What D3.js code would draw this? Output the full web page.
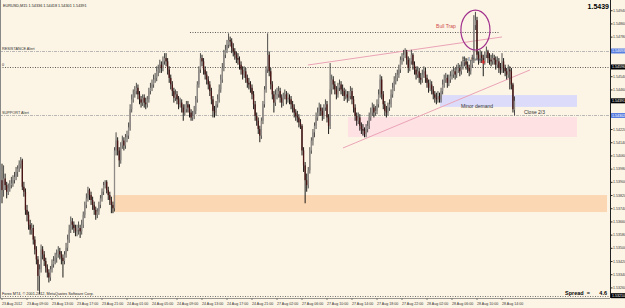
<!DOCTYPE html>
<html><head><meta charset="utf-8">
<script src="https://cdn.jsdelivr.net/npm/d3@7"></script>
<style>body{margin:0;background:#fcf5e5;}svg{display:block}</style>
</head><body><svg id="c" width="625" height="308"></svg>
<script>
const closeP=[
1.5385,1.5392,1.5388,1.5384,1.5386,1.5388,1.5389,1.5391,
1.5393,1.5396,1.5398,1.5401,1.5403,1.5387,1.5384,1.5373,
1.5370,1.5364,1.5361,1.5362,1.5355,1.5349,1.5343,1.5333,
1.5337,1.5349,1.5346,1.5342,1.5338,1.5335,1.5332,1.5337,
1.5340,1.5342,1.5344,1.5346,1.5348,1.5346,1.5344,1.5342,
1.5346,1.5350,1.5355,1.5361,1.5366,1.5364,1.5362,1.5360,
1.5361,1.5362,1.5360,1.5364,1.5370,1.5376,1.5380,1.5385,
1.5382,1.5379,1.5376,1.5373,1.5370,1.5372,1.5376,1.5380,
1.5384,1.5388,1.5390,1.5385,1.5382,1.5379,1.5376,1.5374,
1.5409,1.5415,1.5409,1.5403,1.5412,1.5415,1.5412,1.5417,
1.5418,1.5423,1.5434,1.5440,1.5443,1.5445,1.5447,1.5443,
1.5440,1.5438,1.5441,1.5438,1.5437,1.5440,1.5445,1.5447,
1.5449,1.5452,1.5453,1.5457,1.5458,1.5461,1.5459,1.5463,
1.5465,1.5463,1.5458,1.5453,1.5449,1.5445,1.5441,1.5443,
1.5440,1.5437,1.5438,1.5435,1.5432,1.5434,1.5437,1.5435,
1.5432,1.5429,1.5430,1.5433,1.5440,1.5449,1.5458,1.5465,
1.5463,1.5458,1.5455,1.5452,1.5449,1.5445,1.5440,1.5433,
1.5432,1.5437,1.5440,1.5446,1.5452,1.5459,1.5467,1.5470,
1.5473,1.5476,1.5475,1.5471,1.5469,1.5467,1.5465,1.5464,
1.5461,1.5458,1.5455,1.5457,1.5453,1.5450,1.5449,1.5447,
1.5443,1.5437,1.5430,1.5427,1.5422,1.5418,1.5427,1.5437,
1.5446,1.5458,1.5467,1.5457,1.5449,1.5443,1.5438,1.5443,
1.5443,1.5445,1.5441,1.5438,1.5442,1.5443,1.5440,1.5441,
1.5440,1.5437,1.5435,1.5432,1.5430,1.5429,1.5426,1.5424,
1.5409,1.5400,1.5391,1.5388,1.5397,1.5409,1.5415,1.5420,
1.5424,1.5429,1.5432,1.5435,1.5433,1.5430,1.5435,1.5437,
1.5429,1.5424,1.5446,1.5452,1.5449,1.5446,1.5443,1.5447,
1.5449,1.5446,1.5445,1.5442,1.5443,1.5441,1.5442,1.5445,
1.5440,1.5435,1.5430,1.5427,1.5429,1.5424,1.5422,1.5421,
1.5419,1.5422,1.5424,1.5429,1.5432,1.5435,1.5432,1.5433,
1.5437,1.5443,1.5452,1.5443,1.5437,1.5433,1.5432,1.5435,
1.5437,1.5443,1.5447,1.5451,1.5453,1.5455,1.5458,1.5464,
1.5465,1.5467,1.5469,1.5464,1.5459,1.5463,1.5467,1.5461,
1.5458,1.5455,1.5457,1.5453,1.5452,1.5455,1.5457,1.5453,
1.5450,1.5447,1.5449,1.5446,1.5443,1.5441,1.5440,1.5442,
1.5440,1.5445,1.5449,1.5452,1.5453,1.5450,1.5452,1.5454,
1.5455,1.5457,1.5455,1.5458,1.5459,1.5457,1.5460,1.5463,
1.5463,1.5461,1.5459,1.5457,1.5461,1.5464,1.5485,1.5488,
1.5467,1.5464,1.5467,1.5465,1.5463,1.5467,1.5469,1.5465,
1.5464,1.5463,1.5465,1.5464,1.5461,1.5463,1.5459,1.5458,
1.5463,1.5459,1.5457,1.5455,1.5458,1.5457,1.5449,1.5434,
1.54391];
const openP=[1.5391,
1.5385,1.5392,1.5388,1.5384,1.5386,1.5388,1.5389,1.5391,
1.5393,1.5396,1.5398,1.5401,1.5403,1.5387,1.5384,1.5373,
1.5370,1.5364,1.5361,1.5362,1.5355,1.5349,1.5343,1.5333,
1.5337,1.5349,1.5346,1.5342,1.5338,1.5335,1.5332,1.5337,
1.5340,1.5342,1.5344,1.5346,1.5348,1.5346,1.5344,1.5342,
1.5346,1.5350,1.5355,1.5361,1.5366,1.5364,1.5362,1.5360,
1.5361,1.5362,1.5360,1.5364,1.5370,1.5376,1.5380,1.5385,
1.5382,1.5379,1.5376,1.5373,1.5370,1.5372,1.5376,1.5380,
1.5384,1.5388,1.5390,1.5385,1.5382,1.5379,1.5376,1.5374,
1.5409,1.5415,1.5409,1.5403,1.5412,1.5415,1.5412,1.5417,
1.5418,1.5423,1.5434,1.5440,1.5443,1.5445,1.5447,1.5443,
1.5440,1.5438,1.5441,1.5438,1.5437,1.5440,1.5445,1.5447,
1.5449,1.5452,1.5453,1.5457,1.5458,1.5461,1.5459,1.5463,
1.5465,1.5463,1.5458,1.5453,1.5449,1.5445,1.5441,1.5443,
1.5440,1.5437,1.5438,1.5435,1.5432,1.5434,1.5437,1.5435,
1.5432,1.5429,1.5430,1.5433,1.5440,1.5449,1.5458,1.5465,
1.5463,1.5458,1.5455,1.5452,1.5449,1.5445,1.5440,1.5433,
1.5432,1.5437,1.5440,1.5446,1.5452,1.5459,1.5467,1.5470,
1.5473,1.5476,1.5475,1.5471,1.5469,1.5467,1.5465,1.5464,
1.5461,1.5458,1.5455,1.5457,1.5453,1.5450,1.5449,1.5447,
1.5443,1.5437,1.5430,1.5427,1.5422,1.5418,1.5427,1.5437,
1.5446,1.5458,1.5467,1.5457,1.5449,1.5443,1.5438,1.5443,
1.5443,1.5445,1.5441,1.5438,1.5442,1.5443,1.5440,1.5441,
1.5440,1.5437,1.5435,1.5432,1.5430,1.5429,1.5426,1.5424,
1.5409,1.5400,1.5391,1.5388,1.5397,1.5409,1.5415,1.5420,
1.5424,1.5429,1.5432,1.5435,1.5433,1.5430,1.5435,1.5437,
1.5429,1.5424,1.5446,1.5452,1.5449,1.5446,1.5443,1.5447,
1.5449,1.5446,1.5445,1.5442,1.5443,1.5441,1.5442,1.5445,
1.5440,1.5435,1.5430,1.5427,1.5429,1.5424,1.5422,1.5421,
1.5419,1.5422,1.5424,1.5429,1.5432,1.5435,1.5432,1.5433,
1.5437,1.5443,1.5452,1.5443,1.5437,1.5433,1.5432,1.5435,
1.5437,1.5443,1.5447,1.5451,1.5453,1.5455,1.5458,1.5464,
1.5465,1.5467,1.5469,1.5464,1.5459,1.5463,1.5467,1.5461,
1.5458,1.5455,1.5457,1.5453,1.5452,1.5455,1.5457,1.5453,
1.5450,1.5447,1.5449,1.5446,1.5443,1.5441,1.5440,1.5442,
1.5440,1.5445,1.5449,1.5452,1.5453,1.5450,1.5452,1.5454,
1.5455,1.5457,1.5455,1.5458,1.5459,1.5457,1.5460,1.5463,
1.5463,1.5461,1.5459,1.5457,1.5461,1.5464,1.5485,1.5488,
1.5467,1.5464,1.5467,1.5465,1.5463,1.5467,1.5469,1.5465,
1.5464,1.5463,1.5465,1.5464,1.5461,1.5463,1.5459,1.5458,
1.5463,1.5459,1.5457,1.5455,1.5458,1.5457,1.5449,
1.54336];
const highP=[
1.5401,1.5400,1.5395,1.5390,1.5389,1.5391,1.5393,1.5394,
1.5396,1.5399,1.5400,1.5403,1.5405,1.5404,1.5390,1.5386,
1.5376,1.5372,1.5367,1.5365,1.5364,1.5357,1.5351,1.5345,
1.5340,1.5352,1.5351,1.5348,1.5344,1.5340,1.5337,1.5339,
1.5343,1.5345,1.5347,1.5349,1.5351,1.5350,1.5348,1.5346,
1.5348,1.5353,1.5358,1.5364,1.5369,1.5368,1.5366,1.5364,
1.5364,1.5366,1.5364,1.5367,1.5372,1.5378,1.5383,1.5387,
1.5386,1.5384,1.5381,1.5378,1.5375,1.5374,1.5378,1.5382,
1.5386,1.5390,1.5391,1.5391,1.5387,1.5384,1.5381,1.5378,
1.5411,1.5420,1.5417,1.5411,1.5414,1.5418,1.5417,1.5419,
1.5421,1.5426,1.5437,1.5443,1.5446,1.5448,1.5450,1.5449,
1.5445,1.5442,1.5443,1.5443,1.5441,1.5442,1.5447,1.5450,
1.5452,1.5455,1.5456,1.5460,1.5461,1.5464,1.5463,1.5466,
1.5468,1.5468,1.5465,1.5460,1.5455,1.5451,1.5447,1.5446,
1.5445,1.5442,1.5441,1.5440,1.5437,1.5437,1.5439,1.5439,
1.5437,1.5434,1.5433,1.5436,1.5442,1.5451,1.5460,1.5468,
1.5467,1.5465,1.5460,1.5457,1.5454,1.5451,1.5447,1.5442,
1.5436,1.5439,1.5443,1.5449,1.5455,1.5462,1.5470,1.5473,
1.5476,1.5480,1.5478,1.5477,1.5474,1.5471,1.5469,1.5468,
1.5466,1.5463,1.5460,1.5460,1.5459,1.5455,1.5453,1.5451,
1.5449,1.5445,1.5439,1.5432,1.5429,1.5424,1.5429,1.5439,
1.5448,1.5460,1.5480,1.5469,1.5459,1.5451,1.5445,1.5446,
1.5447,1.5448,1.5447,1.5443,1.5444,1.5446,1.5445,1.5444,
1.5443,1.5442,1.5439,1.5437,1.5434,1.5433,1.5431,1.5428,
1.5425,1.5411,1.5402,1.5395,1.5399,1.5411,1.5417,1.5422,
1.5426,1.5432,1.5435,1.5438,1.5437,1.5435,1.5437,1.5440,
1.5439,1.5431,1.5462,1.5455,1.5454,1.5451,1.5448,1.5450,
1.5452,1.5451,1.5449,1.5447,1.5446,1.5445,1.5445,1.5448,
1.5447,1.5442,1.5437,1.5432,1.5432,1.5431,1.5426,1.5425,
1.5423,1.5425,1.5427,1.5432,1.5435,1.5438,1.5437,1.5436,
1.5440,1.5446,1.5455,1.5454,1.5445,1.5439,1.5436,1.5438,
1.5440,1.5446,1.5450,1.5454,1.5456,1.5458,1.5461,1.5466,
1.5468,1.5470,1.5471,1.5470,1.5466,1.5465,1.5470,1.5468,
1.5463,1.5460,1.5460,1.5459,1.5456,1.5458,1.5460,1.5459,
1.5455,1.5452,1.5452,1.5451,1.5448,1.5445,1.5444,1.5445,
1.5444,1.5447,1.5452,1.5455,1.5456,1.5455,1.5455,1.5457,
1.5458,1.5460,1.5459,1.5461,1.5462,1.5461,1.5463,1.5466,
1.5466,1.5465,1.5463,1.5461,1.5464,1.5467,1.5491,1.5493,
1.5490,1.5469,1.5470,1.5469,1.5467,1.5469,1.5472,1.5470,
1.5468,1.5467,1.5468,1.5467,1.5466,1.5466,1.5465,1.5462,
1.5468,1.5465,1.5461,1.5459,1.5461,1.5460,1.5459,1.5450,
1.54418];
const lowP=[
1.5377,1.5381,1.5385,1.5380,1.5382,1.5384,1.5386,1.5387,
1.5389,1.5391,1.5393,1.5396,1.5398,1.5385,1.5381,1.5370,
1.5366,1.5361,1.5358,1.5358,1.5352,1.5346,1.5340,1.5324,
1.5322,1.5335,1.5343,1.5339,1.5335,1.5332,1.5329,1.5330,
1.5335,1.5338,1.5340,1.5341,1.5344,1.5343,1.5340,1.5332,
1.5340,1.5344,1.5348,1.5353,1.5359,1.5361,1.5359,1.5357,
1.5357,1.5358,1.5356,1.5358,1.5362,1.5368,1.5374,1.5378,
1.5379,1.5376,1.5373,1.5370,1.5367,1.5368,1.5370,1.5374,
1.5378,1.5382,1.5386,1.5383,1.5379,1.5376,1.5371,1.5371,
1.5372,1.5406,1.5406,1.5399,1.5401,1.5410,1.5409,1.5410,
1.5414,1.5416,1.5421,1.5432,1.5438,1.5441,1.5443,1.5440,
1.5437,1.5435,1.5436,1.5435,1.5434,1.5435,1.5438,1.5443,
1.5445,1.5447,1.5450,1.5451,1.5454,1.5456,1.5456,1.5457,
1.5461,1.5460,1.5455,1.5450,1.5446,1.5442,1.5438,1.5439,
1.5437,1.5434,1.5435,1.5432,1.5427,1.5430,1.5432,1.5432,
1.5429,1.5427,1.5427,1.5428,1.5431,1.5438,1.5447,1.5456,
1.5460,1.5455,1.5452,1.5449,1.5446,1.5442,1.5437,1.5429,
1.5429,1.5430,1.5435,1.5438,1.5444,1.5450,1.5457,1.5465,
1.5468,1.5471,1.5472,1.5468,1.5466,1.5464,1.5462,1.5461,
1.5458,1.5455,1.5452,1.5453,1.5450,1.5447,1.5446,1.5444,
1.5440,1.5434,1.5427,1.5424,1.5419,1.5414,1.5416,1.5425,
1.5435,1.5444,1.5456,1.5454,1.5446,1.5440,1.5432,1.5436,
1.5440,1.5441,1.5438,1.5435,1.5436,1.5440,1.5437,1.5438,
1.5437,1.5434,1.5432,1.5429,1.5427,1.5426,1.5423,1.5422,
1.5406,1.5396,1.5377,1.5384,1.5386,1.5395,1.5407,1.5412,
1.5417,1.5422,1.5427,1.5430,1.5430,1.5427,1.5428,1.5433,
1.5426,1.5419,1.5422,1.5443,1.5446,1.5443,1.5440,1.5441,
1.5445,1.5443,1.5442,1.5439,1.5440,1.5438,1.5439,1.5440,
1.5437,1.5432,1.5427,1.5424,1.5425,1.5421,1.5419,1.5418,
1.5417,1.5417,1.5420,1.5422,1.5427,1.5430,1.5429,1.5430,
1.5431,1.5435,1.5441,1.5440,1.5434,1.5430,1.5429,1.5430,
1.5433,1.5435,1.5441,1.5445,1.5449,1.5451,1.5453,1.5456,
1.5461,1.5463,1.5465,1.5461,1.5456,1.5457,1.5461,1.5458,
1.5455,1.5452,1.5453,1.5450,1.5449,1.5450,1.5453,1.5450,
1.5447,1.5444,1.5445,1.5443,1.5440,1.5438,1.5437,1.5438,
1.5438,1.5438,1.5443,1.5447,1.5450,1.5447,1.5448,1.5450,
1.5452,1.5453,1.5452,1.5453,1.5456,1.5454,1.5455,1.5458,
1.5460,1.5458,1.5456,1.5454,1.5455,1.5459,1.5462,1.5482,
1.5464,1.5461,1.5462,1.5462,1.5454,1.5461,1.5465,1.5462,
1.5461,1.5460,1.5461,1.5461,1.5458,1.5459,1.5456,1.5455,
1.5456,1.5456,1.5454,1.5452,1.5453,1.5446,1.5446,1.5432,
1.54301];

const timeLabels=["23 Aug 2012","23 Aug 09:00","23 Aug 13:00","23 Aug 17:00","23 Aug 21:00","24 Aug 01:00","24 Aug 05:00","24 Aug 09:00","24 Aug 13:00","24 Aug 17:00","24 Aug 21:00","27 Aug 02:00","27 Aug 06:00","27 Aug 10:00","27 Aug 14:00","27 Aug 18:00","27 Aug 22:00","28 Aug 02:00","28 Aug 06:00","28 Aug 10:00","28 Aug 14:00"];
const barsPerLabel=16;
const priceTicks=[1.54940,1.54860,1.54780,1.54700,1.54620,1.54540,1.54460,1.54380,1.54300,1.54220,1.54140,1.54060,1.53980,1.53900,1.53820,1.53740,1.53660,1.53580,1.53500,1.53420,1.53340,1.53260];

// annotation levels (bar index / price)
const levelNames=["RESISTANCE Alert","0","SUPPORT Alert"];
const levelPrices=[1.54693,1.54596,1.54302];
const bottomLevel=1.53210;
const topSegment=[[120.3,1.54808],[318.7,1.54808]];
const trendUpper=[[195.8,1.54608],[320,1.54778]];
const trendLower=[[218.2,1.54105],[337.9,1.54578]];
const zoneNames=["peach","pink","lavender"];
const zoneBars=[[71,390],[221.4,368],[280.3,368]];
const zonePrices=[[1.53820,1.53717],[1.54293,1.54172],[1.54426,1.54354]];
const trapCenter=[303,1.54820], trapRadius=[9.3,0.00121];
const bidPrice=1.54391;

const svg=d3.select("#c");
const plotR=610, plotB=297;
const x=d3.scaleLinear().domain([0,384]).range([2,602]);
const y=d3.scaleLinear().domain([1.53202,1.55002]).range([plotB,0]);
const F="'Liberation Sans',Arial,sans-serif";

svg.append("rect").attr("width",625).attr("height",308).attr("fill","#fcf5e5");

// zones
const zoneFill=["#fbd7b4","#fde1e3","#dcdcfa"];
zoneNames.forEach((n,k)=>{
  const x0=x(zoneBars[k][0]), x1=Math.min(plotR-3,x(zoneBars[k][1]));
  svg.append("rect").attr("x",x0).attr("width",x1-x0)
    .attr("y",y(zonePrices[k][0])).attr("height",y(zonePrices[k][1])-y(zonePrices[k][0]))
    .attr("fill",zoneFill[k]);
});

// horizontal levels
const lvlStyle=[{s:"#a8a8a8",d:"3,1,1,1"},{s:"#333",d:"1,1.5"},{s:"#a8a8a8",d:"3,1,1,1"}];
levelPrices.forEach((p,k)=>{
  svg.append("line").attr("x1",0).attr("x2",plotR).attr("y1",Math.round(y(p))+0.5).attr("y2",Math.round(y(p))+0.5)
    .attr("stroke",lvlStyle[k].s).attr("stroke-dasharray",lvlStyle[k].d).attr("stroke-width",0.8);
  svg.append("text").attr("x",2).attr("y",Math.round(y(p))-1).text(levelNames[k])
    .attr("font-family",F).attr("font-size",3.8).attr("fill","#333");
});
svg.append("line").attr("x1",x(topSegment[0][0])).attr("x2",x(topSegment[1][0]))
  .attr("y1",Math.round(y(topSegment[0][1]))+0.5).attr("y2",Math.round(y(topSegment[1][1]))+0.5)
  .attr("stroke","#333").attr("stroke-dasharray","1,1.5").attr("stroke-width",0.8);
svg.append("line").attr("x1",0).attr("x2",plotR).attr("y1",Math.round(y(bottomLevel))+0.5).attr("y2",Math.round(y(bottomLevel))+0.5)
  .attr("stroke","#555").attr("stroke-dasharray","1,1.5").attr("stroke-width",0.8);

// trend lines
[trendUpper,trendLower].forEach(t=>{
  svg.append("line").attr("x1",x(t[0][0])).attr("y1",y(t[0][1])).attr("x2",x(t[1][0])).attr("y2",y(t[1][1]))
    .attr("stroke","#eba3b6").attr("stroke-width",1);
});

// candles
const idx=d3.range(closeP.length);
const g=svg.append("g");
g.selectAll("line.w").data(idx).join("line").attr("class","w")
  .attr("x1",i=>x(i)).attr("x2",i=>x(i)).attr("y1",i=>y(highP[i])).attr("y2",i=>y(lowP[i]))
  .attr("stroke",i=>closeP[i]>=openP[i]?"#3a3a3a":"#000").attr("stroke-width",0.9);
g.selectAll("rect.b").data(idx).join("rect").attr("class","b")
  .attr("x",i=>x(i)-0.65).attr("width",1.3)
  .attr("y",i=>y(Math.max(openP[i],closeP[i])))
  .attr("height",i=>Math.max(0.8,Math.abs(y(openP[i])-y(closeP[i]))))
  .attr("fill",i=>closeP[i]>=openP[i]?"#8f8a86":"#4a1414");

// ellipse
svg.append("ellipse").attr("cx",x(trapCenter[0])).attr("cy",y(trapCenter[1]))
  .attr("rx",x(trapCenter[0]+trapRadius[0])-x(trapCenter[0]))
  .attr("ry",y(trapCenter[1]-trapRadius[1])-y(trapCenter[1]))
  .attr("fill","none").attr("stroke","#a2308e").attr("stroke-width",1.2);

// texts
const T=(bx,p,s,size,col,anchor,w)=>svg.append("text").attr("x",x(bx)).attr("y",y(p)).text(s)
  .attr("font-family",F).attr("font-size",size).attr("fill",col).attr("text-anchor",anchor||"start").attr("font-weight",w||"normal");
T(277.8,1.54835,"Bull Trap",5,"#cf4a4a");
T(294.5,1.54630,"Sell Here",4.6,"#555");
T(304,1.54350,"Minor demand",5,"#333","middle");
T(334,1.54312,"Close 2/3",5,"#333");
// red cross
const cx0=x(308), cy0=y(1.54626);
svg.append("path").attr("d",`M${cx0-2},${cy0}H${cx0+2}M${cx0},${cy0-2}V${cy0+2}`).attr("stroke","#e02020").attr("stroke-width",1);

svg.append("text").attr("x",3).attr("y",6.5).text("EURUSD,M15  1.54336 1.54418 1.54301 1.54391")
  .attr("font-family",F).attr("font-size",3.8).attr("fill","#222");
svg.append("text").attr("x",609).attr("y",9).text("1.5439").attr("text-anchor","end")
  .attr("font-family",F).attr("font-size",7).attr("font-weight","bold").attr("fill","#000");
svg.append("text").attr("x",2).attr("y",295).text("Forex MT4, © 2001-2012, MetaQuotes Software Corp.")
  .attr("font-family",F).attr("font-size",3.8).attr("fill","#222");
svg.append("text").attr("x",565).attr("y",295).text("Spread  =").attr("font-family",F).attr("font-size",5.5).attr("font-weight","bold").attr("fill","#000").attr("xml:space","preserve");
svg.append("text").attr("x",607).attr("y",295).text("4.6").attr("text-anchor","end").attr("font-family",F).attr("font-size",5.5).attr("font-weight","bold").attr("fill","#000");

// right axis
svg.append("line").attr("x1",plotR+0.5).attr("x2",plotR+0.5).attr("y1",0).attr("y2",plotB+1).attr("stroke","#222");
svg.append("line").attr("x1",0.5).attr("x2",0.5).attr("y1",0).attr("y2",plotB+1).attr("stroke","#888");
svg.append("line").attr("x1",0).attr("x2",plotR).attr("y1",plotB+1.5).attr("y2",plotB+1.5).attr("stroke","#555").attr("stroke-width",0.6);

// price labels (coloured), tick labels that would sit under them are hidden like in MT4
const pl=[[levelPrices[0],"#5b7fe0"],[levelPrices[1],"#000"],[bidPrice,"#000"],[levelPrices[2],"#5b7fe0"],[bottomLevel,"#000"]];
const visTicks=priceTicks.filter(t=>pl.every(([p])=>Math.abs(y(p)-y(t))>5.5));
const yAxis=d3.axisRight(y).tickValues(visTicks).tickSize(2).tickFormat(d3.format(".5f"));
const ya=svg.append("g").attr("transform",`translate(${plotR+0.5},0)`).call(yAxis);
ya.select(".domain").remove();
ya.selectAll("text").attr("font-family",F).attr("font-size",3.6).attr("fill","#333").attr("x",2.5);
ya.selectAll("line").attr("stroke","#333");
pl.forEach(([p,c])=>{
  const yy=y(p);
  svg.append("rect").attr("x",plotR+1).attr("y",yy-2.5).attr("width",14).attr("height",5).attr("fill",c);
  svg.append("text").attr("x",plotR+2).attr("y",yy+1.3).text(d3.format(".5f")(p))
    .attr("font-family",F).attr("font-size",3.6).attr("fill","#fff");
});

// bottom axis labels
const xa=svg.append("g");
timeLabels.forEach((s,k)=>{
  const xx=x(k*barsPerLabel);
  xa.append("line").attr("x1",xx).attr("x2",xx).attr("y1",plotB+1.5).attr("y2",plotB+3).attr("stroke","#333").attr("stroke-width",0.6);
  xa.append("text").attr("x",xx).attr("y",305).text(s).attr("font-family",F).attr("font-size",3.6).attr("fill","#333");
});
</script></body></html>
